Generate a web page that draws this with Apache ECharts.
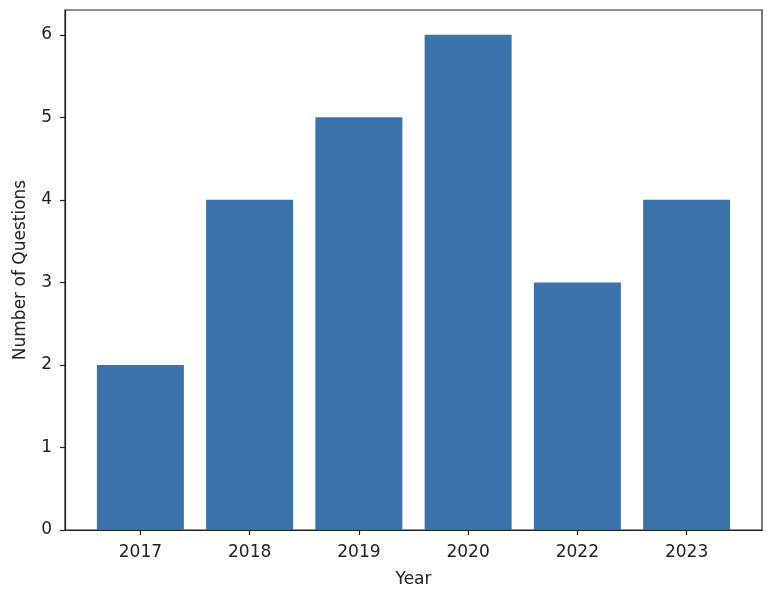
<!DOCTYPE html>
<html>
<head>
<meta charset="utf-8">
<script src="https://cdn.jsdelivr.net/npm/echarts@6/dist/echarts.min.js"></script>
<style>html,body{margin:0;padding:0;background:#fff}#c{width:772px;height:598px}</style>
</head>
<body>
<div id="c"></div>
<script>
const years = ['2017', '2018', '2019', '2020', '2022', '2023'];
const questions = [2, 4, 5, 6, 3, 4];
const yTicks = [0, 1, 2, 3, 4, 5, 6];

const chart = echarts.init(document.getElementById('c'), null, {renderer: 'canvas'});
const font = 'DejaVu Sans';
const idx = years.map((_, i) => i);
chart.setOption({
  animation: false,
  grid: {left: 65, right: 10, top: 10, bottom: 68, outerBoundsMode: 'none', containLabel: false,
    show: true, borderColor: '#222', borderWidth: 1.2, backgroundColor: 'transparent'},
  xAxis: {
    type: 'value', min: -0.69, max: 5.69,
    name: 'Year', nameLocation: 'middle', nameGap: 41,
    nameTextStyle: {fontFamily: font, fontSize: 17, color: '#222'},
    splitLine: {show: false},
    axisLine: {show: true, onZero: false, lineStyle: {color: '#222', width: 1.2}},
    axisTick: {show: true, length: 5, customValues: idx, lineStyle: {color: '#222', width: 1.2}},
    axisLabel: {customValues: idx, margin: 14, fontFamily: font, fontSize: 17, color: '#222',
      formatter: v => years[Math.round(v)]}
  },
  yAxis: {
    type: 'value', min: 0, max: 6.3,
    name: 'Number of Questions', nameLocation: 'middle', nameGap: 36,
    nameTextStyle: {fontFamily: font, fontSize: 17, color: '#222'},
    splitLine: {show: false},
    axisLine: {show: true, onZero: false, lineStyle: {color: '#222', width: 1.2}},
    axisTick: {show: true, length: 5, customValues: yTicks, lineStyle: {color: '#222', width: 1.2}},
    axisLabel: {customValues: yTicks, margin: 13, fontFamily: font, fontSize: 17, color: '#222'}
  },
  series: [{
    type: 'bar',
    barWidth: 87,
    itemStyle: {color: '#3a73a9'},
    data: questions.map((v, i) => [i, v])
  }]
});
</script>
</body>
</html>
